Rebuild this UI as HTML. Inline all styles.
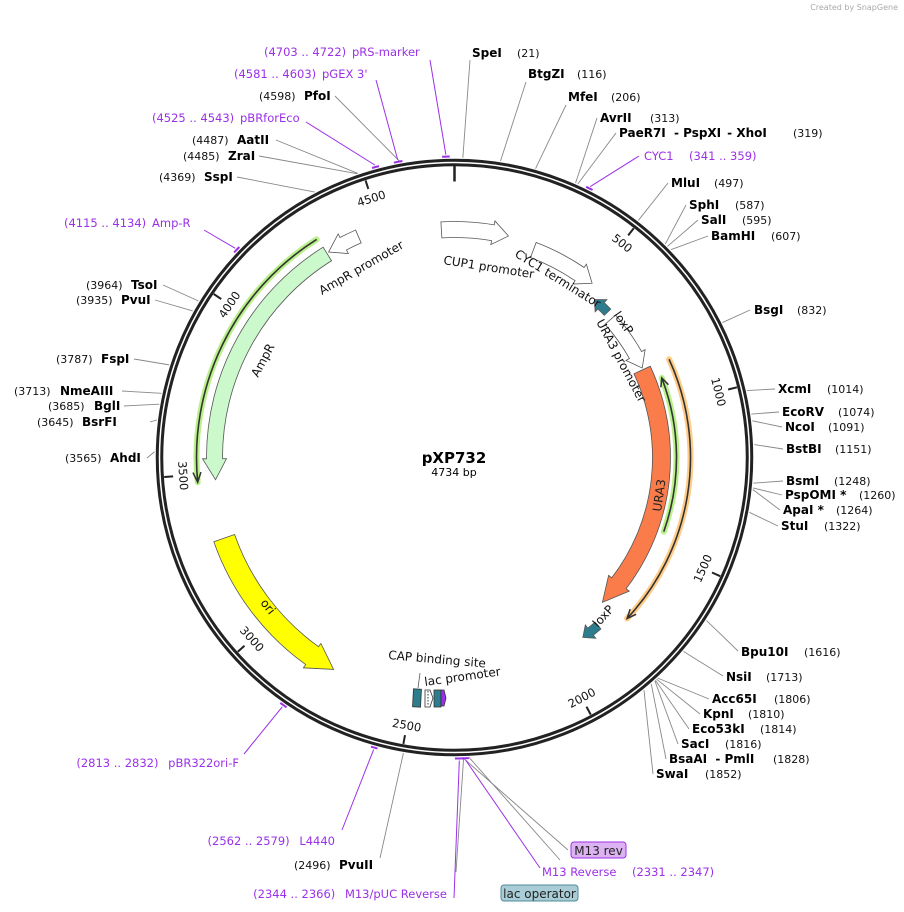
<!DOCTYPE html>
<html><head><meta charset="utf-8"><style>
html,body{margin:0;padding:0;background:#fff;}
svg{display:block;font-family:"DejaVu Sans","Liberation Sans",sans-serif;}
.r{font-size:11px;fill:#111;}
.b{font-size:12px;font-weight:bold;fill:#000;}
.p{font-size:11.5px;fill:#9b30e8;}
.f{font-size:12px;fill:#111;}
</style></head><body>
<svg id="s" width="904" height="912" viewBox="0 0 904 912" xmlns="http://www.w3.org/2000/svg">
<text x="898" y="10" text-anchor="end" style="font-size:8px;fill:#aaa">Created by SnapGene</text>
<g id="g"></g>
<text x="454" y="463" text-anchor="middle" style="font-size:15px;font-weight:bold;">pXP732</text>
<text x="454" y="476" text-anchor="middle" style="font-size:11px;">4734 bp</text>

<text class="b" x="472" y="57">SpeI</text><text class="r" x="517" y="57">(21)</text>
<text class="b" x="528" y="78">BtgZI</text><text class="r" x="577" y="78">(116)</text>
<text class="b" x="568" y="101">MfeI</text><text class="r" x="611" y="101">(206)</text>
<text class="b" x="600" y="122">AvrII</text><text class="r" x="650" y="122">(313)</text>
<text class="b" x="619" y="137">PaeR7I <tspan dx="4">- PspXI</tspan><tspan dx="6">- XhoI</tspan></text><text class="r" x="793" y="137">(319)</text>
<text class="p" x="644" y="160">CYC1</text><text class="p" x="689" y="160">(341 .. 359)</text>
<text class="b" x="671" y="187">MluI</text><text class="r" x="714" y="187">(497)</text>
<text class="b" x="689" y="209">SphI</text><text class="r" x="735" y="209">(587)</text>
<text class="b" x="701" y="224">SalI</text><text class="r" x="742" y="224">(595)</text>
<text class="b" x="711" y="240">BamHI</text><text class="r" x="771" y="240">(607)</text>
<text class="b" x="754" y="314">BsgI</text><text class="r" x="797" y="314">(832)</text>
<text class="b" x="778" y="393">XcmI</text><text class="r" x="827" y="393">(1014)</text>
<text class="b" x="782" y="416">EcoRV</text><text class="r" x="838" y="416">(1074)</text>
<text class="b" x="785" y="431">NcoI</text><text class="r" x="828" y="431">(1091)</text>
<text class="b" x="786" y="453">BstBI</text><text class="r" x="835" y="453">(1151)</text>
<text class="b" x="786" y="485">BsmI</text><text class="r" x="834" y="485">(1248)</text>
<text class="b" x="785" y="499">PspOMI *</text><text class="r" x="859" y="499">(1260)</text>
<text class="b" x="783" y="514">ApaI *</text><text class="r" x="836" y="514">(1264)</text>
<text class="b" x="781" y="530">StuI</text><text class="r" x="824" y="530">(1322)</text>
<text class="b" x="741" y="656">Bpu10I</text><text class="r" x="804" y="656">(1616)</text>
<text class="b" x="726" y="681">NsiI</text><text class="r" x="766" y="681">(1713)</text>
<text class="b" x="712" y="703">Acc65I</text><text class="r" x="774" y="703">(1806)</text>
<text class="b" x="703" y="718">KpnI</text><text class="r" x="748" y="718">(1810)</text>
<text class="b" x="692" y="733">Eco53kI</text><text class="r" x="760" y="733">(1814)</text>
<text class="b" x="681" y="748">SacI</text><text class="r" x="725" y="748">(1816)</text>
<text class="b" x="669" y="763">BsaAI <tspan dx="4">- PmlI</tspan></text><text class="r" x="773" y="763">(1828)</text>
<text class="b" x="656" y="778">SwaI</text><text class="r" x="705" y="778">(1852)</text>

<rect x="571" y="842" width="55" height="16" rx="3" fill="#dcb2f2" stroke="#9b30e8"/>
<text x="598.5" y="855" text-anchor="middle" style="font-size:12px;fill:#222">M13 rev</text>
<text class="p" x="542" y="876">M13 Reverse</text><text class="p" x="632" y="876">(2331 .. 2347)</text>
<rect x="501" y="885" width="77" height="16" rx="3" fill="#a9cdd6" stroke="#4f8a99"/>
<text x="539.5" y="898" text-anchor="middle" style="font-size:12px;fill:#222">lac operator</text>
<text class="p" x="447" y="898" text-anchor="end">(2344 .. 2366) <tspan dx="6">M13/pUC Reverse</tspan></text>
<text class="r" x="294" y="869">(2496)</text><text class="b" x="339" y="869">PvuII</text>
<text class="p" x="335" y="845" text-anchor="end">(2562 .. 2579) <tspan dx="6">L4440</tspan></text>
<text class="p" x="239" y="767" text-anchor="end">(2813 .. 2832) <tspan dx="6">pBR322ori-F</tspan></text>

<text class="r" x="65" y="462">(3565)</text><text class="b" x="110" y="462">AhdI</text>
<text class="r" x="37" y="426">(3645)</text><text class="b" x="82" y="426">BsrFI</text>
<text class="r" x="48" y="410">(3685)</text><text class="b" x="94" y="410">BglI</text>
<text class="r" x="14" y="395">(3713)</text><text class="b" x="60" y="395">NmeAIII</text>
<text class="r" x="56" y="363">(3787)</text><text class="b" x="101" y="363">FspI</text>
<text class="r" x="76" y="304">(3935)</text><text class="b" x="121" y="304">PvuI</text>
<text class="r" x="86" y="289">(3964)</text><text class="b" x="131" y="289">TsoI</text>
<text class="p" x="64" y="227">(4115 .. 4134)</text><text class="p" x="152" y="227">Amp-R</text>
<text class="r" x="159" y="181">(4369)</text><text class="b" x="204" y="181">SspI</text>
<text class="r" x="183" y="160">(4485)</text><text class="b" x="228" y="160">ZraI</text>
<text class="r" x="192" y="144">(4487)</text><text class="b" x="237" y="144">AatII</text>
<text class="p" x="152" y="122">(4525 .. 4543)</text><text class="p" x="240" y="122">pBRforEco</text>
<text class="r" x="259" y="100">(4598)</text><text class="b" x="304" y="100">PfoI</text>
<text class="p" x="234" y="78">(4581 .. 4603)</text><text class="p" x="322" y="78">pGEX 3'</text>
<text class="p" x="264" y="56">(4703 .. 4722)</text><text class="p" x="352" y="56">pRS-marker</text>

<text class="f" transform="translate(443,264) rotate(9)">CUP1 promoter</text>
<text class="f" transform="translate(514,256) rotate(32)">CYC1 terminator</text>
<text class="f" transform="translate(322,295) rotate(-30)">AmpR promoter</text>
<text class="f" transform="translate(258,378) rotate(-62)">AmpR</text>
<text class="f" transform="translate(613,315) rotate(55)">loxP</text>
<text class="f" transform="translate(596,322) rotate(62)">URA3 promoter</text>
<text class="f" transform="translate(661,512) rotate(-82)" style="fill:#222">URA3</text>
<text class="f" transform="translate(598,628) rotate(-48)">loxP</text>
<text class="f" transform="translate(260,603) rotate(52)">ori</text>
<text class="f" transform="translate(388,659) rotate(5)">CAP binding site</text>
<text class="f" transform="translate(425,686) rotate(-8)">lac promoter</text>
</svg>
<script>
var cx=454.5,cy=457.5,N=4734,g=document.getElementById('g'),NS='http://www.w3.org/2000/svg';
function P(r,a){a=a*Math.PI/180;return [cx+r*Math.sin(a),cy-r*Math.cos(a)];}
function el(t,at){var e=document.createElementNS(NS,t);for(var k in at)e.setAttribute(k,at[k]);g.appendChild(e);return e;}
function arc(r,a1,a2){var s=P(r,a1),e=P(r,a2),l=Math.abs(a2-a1)>180?1:0,sw=a2>a1?1:0;return 'A'+r+' '+r+' 0 '+l+' '+sw+' '+e[0]+' '+e[1];}
function pt(p){return p[0]+' '+p[1];}
function feat(r,w,a1,a2,dir,fill,h){
  h=h||5;var ro=r+w/2,ri=r-w/2,hw=w/2+4,d;
  if(dir=='cw'){var b=a2-h;
    d='M'+pt(P(ro,a1))+arc(ro,a1,b)+'L'+pt(P(r+hw,b))+'L'+pt(P(r,a2))+'L'+pt(P(r-hw,b))+'L'+pt(P(ri,b))+arc(ri,b,a1)+'Z';}
  else{var b=a1+h;
    d='M'+pt(P(ro,a2))+arc(ro,a2,b)+'L'+pt(P(r+hw,b))+'L'+pt(P(r,a1))+'L'+pt(P(r-hw,b))+'L'+pt(P(ri,b))+arc(ri,b,a2)+'Z';}
  el('path',{d:d,fill:fill,stroke:'#555','stroke-width':0.8});
}
function line(r,a1,a2,dir,hl){
  var d='M'+pt(P(r,a1))+arc(r,a1,a2);
  el('path',{d:d,fill:'none',stroke:hl,'stroke-width':6,'stroke-linecap':'round'});
  el('path',{d:d,fill:'none',stroke:'#333','stroke-width':1.6});
  var t=dir=='cw'?a2:a1,b=dir=='cw'?a2-2.2:a1+2.2;
  el('path',{d:'M'+pt(P(r+4,b))+'L'+pt(P(r,t))+'L'+pt(P(r-4,b)),fill:'none',stroke:'#333','stroke-width':1.5});
}
el('circle',{cx:cx,cy:cy,r:295,fill:'none',stroke:'#222','stroke-width':7.5});
el('circle',{cx:cx,cy:cy,r:295,fill:'none',stroke:'#fff','stroke-width':1.5});
for(var bp=500;bp<N;bp+=500){var a=bp/N*360,p1=P(291,a),p2=P(282,a);
  el('line',{x1:p1[0],y1:p1[1],x2:p2[0],y2:p2[1],stroke:'#222','stroke-width':2});
  var q=P(272,a),rot=(a<90||a>270)?a:a-180;
  var t=el('text',{x:0,y:0,'text-anchor':'middle','font-size':'11.5',fill:'#111',transform:'translate('+q[0]+','+q[1]+') rotate('+rot+') translate(0,4)'});t.textContent=bp;}
el('line',{x1:cx,y1:cy-292,x2:cx,y2:cy-276,stroke:'#222','stroke-width':2.5});
line(258,264.5,327.7,'ccw','#b9f08a');
feat(240,16,264.7,328,'ccw','#ccf9cc',5);
feat(241,14,328.5,336.5,'ccw','#fff',4);
feat(228,16,-3.3,13.7,'cw','#fff',4);
feat(222,16,20.8,38.3,'cw','#fff',4);
feat(211,9,41.5,46.5,'ccw','#2e7d8f',2.5);
feat(208,14,48.5,64.5,'cw','#fff',4);
feat(207,18,65,134.4,'cw','#f97c4a',7);
line(222,69,109.5,'ccw','#b9f08a');
line(236,65.4,133,'cw','#ffcc88');
feat(221,9,139.5,144.5,'cw','#2e7d8f',2.5);
feat(244,22,209.7,250.7,'ccw','#ffff00',6);
el('rect',{x:413,y:689,width:8,height:18,fill:'#2e7d8f',stroke:'#333','stroke-width':0.8,transform:'rotate(3 417 698)'});
el('path',{d:'M425 690 L430 690 L433 698 L430 707 L425 707 Z',fill:'#fff',stroke:'#333','stroke-width':0.8});
el('line',{x1:428,y1:691,x2:428,y2:706,stroke:'#333','stroke-width':1,'stroke-dasharray':'1.5 1.5'});
el('rect',{x:434,y:690,width:7,height:17,fill:'#2e7d8f',stroke:'#333','stroke-width':0.8});
el('path',{d:'M441 690 L444 690 L446 698 L444 706 L441 706 Z',fill:'#9b30e8',stroke:'#333','stroke-width':0.8});
el('line',{x1:418,y1:688,x2:420,y2:673,stroke:'#555','stroke-width':0.8});
var E=[[21,470,60],[116,526,82],[206,566,105],[313,597,118],[319,616,133],[497,668,183],[587,686,205],[595,698,220],[607,708,236],[832,750,310],[1014,775,389],[1074,779,412],[1091,782,427],[1151,783,449],[1248,783,481],[1260,782,495],[1264,780,510],[1322,778,526],[1616,738,651],[1713,723,676],[1806,709,699],[1810,700,714],[1814,689,729],[1816,678,744],[1828,666,759],[1852,653,774],[2496,380,858],[2344,456,872],[2331,560,860],[2347,568,850],
[3565,147,458],[3645,150,422],[3685,124,406],[3713,122,391],[3787,134,359],[3935,155,300],[3964,163,285],[4369,237,177],[4485,259,156],[4487,276,140],[4598,335,96]];
E.forEach(function(e){var a=e[0]/N*360,p=P(300,a);el('line',{x1:p[0],y1:p[1],x2:e[1],y2:e[2],stroke:'#888','stroke-width':0.9});});
var Pm=[[341,359,639,156],[4115,4134,204,230],[4525,4543,306,122],[4581,4603,376,80],[4703,4722,430,60],[2813,2832,244,754],[2562,2579,342,830],[2344,2366,454,898],[2331,2347,540,868]];
Pm.forEach(function(e){var a1=e[0]/N*360,a2=e[1]/N*360,am=(a1+a2)/2,r=301;
  el('path',{d:'M'+pt(P(r,a1))+arc(r,a1,a2),fill:'none',stroke:'#9b30e8','stroke-width':2});
  var p=P(r+2,am);el('line',{x1:p[0],y1:p[1],x2:e[2],y2:e[3],stroke:'#9b30e8','stroke-width':1});});
</script>
</body></html>
